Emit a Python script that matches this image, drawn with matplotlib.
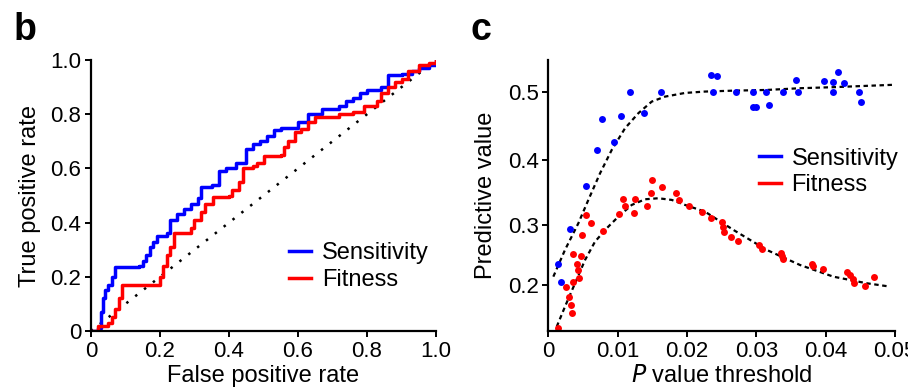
import numpy as np
import matplotlib
matplotlib.use('Agg')
import matplotlib.pyplot as plt

plt.rcParams['font.family'] = ['Liberation Sans', 'DejaVu Sans']

# ---- panel b: ROC curves ----
sens_fpr = [0, 0.02, 0.03, 0.035, 0.04, 0.05, 0.06, 0.07, 0.14, 0.15, 0.16, 0.17, 0.18, 0.19,
            0.22, 0.23, 0.25, 0.27, 0.29, 0.31, 0.32, 0.35, 0.37, 0.39, 0.42, 0.45, 0.47, 0.49,
            0.51, 0.53, 0.55, 0.6, 0.63, 0.67, 0.72, 0.74, 0.76, 0.78, 0.8, 0.84, 0.86, 0.9,
            0.93, 0.95, 0.98, 1.0]
sens_tpr = [0, 0.01, 0.07, 0.12, 0.15, 0.17, 0.2, 0.235, 0.24, 0.26, 0.28, 0.31, 0.33, 0.35,
            0.36, 0.41, 0.43, 0.45, 0.47, 0.49, 0.53, 0.54, 0.59, 0.6, 0.62, 0.67, 0.69, 0.7,
            0.72, 0.74, 0.75, 0.77, 0.8, 0.82, 0.83, 0.85, 0.86, 0.88, 0.89, 0.9, 0.945, 0.95,
            0.96, 0.97, 0.98, 1.0]

fit_fpr = [0, 0.02, 0.05, 0.06, 0.07, 0.08, 0.09, 0.19, 0.2, 0.21, 0.22, 0.23, 0.24, 0.28,
           0.29, 0.3, 0.32, 0.33, 0.355, 0.4, 0.41, 0.43, 0.44, 0.47, 0.48, 0.5, 0.55, 0.56,
           0.57, 0.59, 0.61, 0.63, 0.65, 0.71, 0.72, 0.76, 0.79, 0.83, 0.84, 0.86, 0.88, 0.9,
           0.92, 0.95, 0.98, 1.0]
fit_tpr = [0, 0.02, 0.03, 0.05, 0.08, 0.12, 0.17, 0.17, 0.2, 0.24, 0.28, 0.31, 0.36, 0.36,
           0.38, 0.41, 0.44, 0.47, 0.495, 0.5, 0.52, 0.55, 0.6, 0.61, 0.62, 0.645, 0.65, 0.68,
           0.7, 0.735, 0.745, 0.77, 0.79, 0.79, 0.8, 0.81, 0.83, 0.85, 0.88, 0.9, 0.92, 0.93,
           0.96, 0.98, 0.99, 1.0]

# ---- panel c: predictive value vs P value threshold ----
sens_p = [0.00144, 0.00178, 0.00313, 0.0055, 0.00697, 0.00774, 0.00947, 0.01043, 0.01173,
          0.01375, 0.0163, 0.02346, 0.02438, 0.0237, 0.027, 0.02947, 0.02957, 0.02995,
          0.0314, 0.03188, 0.0338, 0.03572, 0.03606, 0.03971, 0.041, 0.04111, 0.04178,
          0.0426, 0.04481, 0.04505]
sens_v = [0.237, 0.205, 0.293, 0.361, 0.416, 0.461, 0.428, 0.466, 0.5, 0.4705, 0.5, 0.525,
          0.523, 0.5, 0.5, 0.5, 0.478, 0.479, 0.5, 0.481, 0.5, 0.517, 0.5, 0.516, 0.5, 0.515,
          0.5286, 0.514, 0.5, 0.4865]

fit_p = [0.00144, 0.00255, 0.00303, 0.00322, 0.00337, 0.0036, 0.0036, 0.00409, 0.00423,
         0.00442, 0.00476, 0.00486, 0.00543, 0.00615, 0.00784, 0.01024, 0.01077, 0.01101,
         0.01236, 0.01255, 0.01418, 0.01476, 0.0149, 0.01644, 0.01837, 0.0189, 0.02034,
         0.02212, 0.02346, 0.0251, 0.02519, 0.02538, 0.02639, 0.0273, 0.03034, 0.03077,
         0.03356, 0.0337, 0.0339, 0.03808, 0.03817, 0.03966, 0.04313, 0.04351, 0.0439,
         0.04409, 0.04572, 0.04697]
fit_v = [0.122, 0.1965, 0.18, 0.165, 0.15, 0.2057, 0.2528, 0.237, 0.2253, 0.2121, 0.25,
         0.2844, 0.3153, 0.3026, 0.2898, 0.3169, 0.3414, 0.33, 0.3185, 0.3407, 0.33, 0.3507,
         0.3696, 0.3589, 0.35, 0.3393, 0.33, 0.3205, 0.3116, 0.3047, 0.2972, 0.2882, 0.2813,
         0.2748, 0.2677, 0.2618, 0.2552, 0.2497, 0.2442, 0.237, 0.2326, 0.2282, 0.2226,
         0.2169, 0.2113, 0.2045, 0.1988, 0.2147]

# dashed trend lines (traced)
sens_trend_p = [0.00072, 0.0024, 0.00433, 0.00577, 0.00746, 0.00914, 0.01106, 0.01298,
                0.01491, 0.01683, 0.01971, 0.0226, 0.02668, 0.0315, 0.0363, 0.0411, 0.0459,
                0.04975]
sens_trend_v = [0.2148, 0.2595, 0.3026, 0.3393, 0.3803, 0.4154, 0.4476, 0.4696, 0.4865,
                0.4937, 0.499, 0.501, 0.5023, 0.5033, 0.5058, 0.5073, 0.5092, 0.5107]
fit_trend_p = [0.00121, 0.0024, 0.00385, 0.00529, 0.00673, 0.00842, 0.0101, 0.01203, 0.01395,
               0.01587, 0.0178, 0.01971, 0.0226, 0.02668, 0.0315, 0.0363, 0.0411, 0.0459,
               0.04928]
fit_trend_v = [0.1253, 0.1623, 0.2035, 0.2428, 0.273, 0.2946, 0.3131, 0.3315, 0.3403, 0.3419,
               0.3393, 0.3315, 0.3209, 0.292, 0.2595, 0.2345, 0.2148, 0.2035, 0.1977]

BLUE = '#0000ff'
RED = '#ff0000'

fig = plt.figure(figsize=(9.08, 3.92), dpi=100)
axb = fig.add_axes([0.1002, 0.1556, 0.38, 0.6913])
axc = fig.add_axes([0.6039, 0.1556, 0.3818, 0.6913])


def style(ax):
    for s in ['top', 'right']:
        ax.spines[s].set_visible(False)
    for s in ['left', 'bottom']:
        ax.spines[s].set_linewidth(1.6)
    ax.tick_params(direction='out', length=4, width=1.4, labelsize=16, pad=3)


# panel b
axb.plot([0, 1], [0, 1], color='black', lw=1.8, ls=(0, (1, 3.5)))
axb.plot(sens_fpr, sens_tpr, color=BLUE, lw=2.5, drawstyle='steps-post', label='Sensitivity')
axb.plot(fit_fpr, fit_tpr, color=RED, lw=2.5, drawstyle='steps-post', label='Fitness')
axb.set_xlim(0, 1)
axb.set_ylim(0, 1)
axb.set_xticks([0, 0.2, 0.4, 0.6, 0.8, 1.0])
axb.set_xticklabels(['0', '0.2', '0.4', '0.6', '0.8', '1.0'])
axb.set_yticks([0, 0.2, 0.4, 0.6, 0.8, 1.0])
axb.set_yticklabels(['0', '0.2', '0.4', '0.6', '0.8', '1.0'])
axb.set_xlabel('False positive rate', fontsize=17, labelpad=2)
axb.set_ylabel('True positive rate', fontsize=17, labelpad=7)
style(axb)
axb.legend(loc='lower right', bbox_to_anchor=(1.04, 0.07), frameon=False, fontsize=17,
           handlelength=0.95, handletextpad=0.45, labelspacing=0.2)

# panel c (y axis is slightly compressed towards the bottom in the original)
axc.set_yscale('function', functions=(lambda y: np.power(np.clip(y, 1e-9, None), 1.2),
                                      lambda y: np.power(np.clip(y, 1e-9, None), 1 / 1.2)))
axc.plot(sens_trend_p, sens_trend_v, color='black', lw=1.6, ls=(0, (2, 1.6)))
axc.plot(fit_trend_p, fit_trend_v, color='black', lw=1.6, ls=(0, (2, 1.6)))
axc.plot(sens_p, sens_v, 'o', color=BLUE, ms=5, mec='none')
axc.plot(fit_p, fit_v, 'o', color=RED, ms=5, mec='none')
axc.plot([], [], color=BLUE, lw=2.5, label='Sensitivity')
axc.plot([], [], color=RED, lw=2.5, label='Fitness')
axc.set_xlim(0, 0.05)
axc.set_ylim(0.117, 0.546)
axc.set_xticks([0, 0.01, 0.02, 0.03, 0.04, 0.05])
axc.set_xticklabels(['0', '0.01', '0.02', '0.03', '0.04', '0.05'])
axc.set_yticks([0.2, 0.3, 0.4, 0.5])
axc.set_yticklabels(['0.2', '0.3', '0.4', '0.5'])
axc.yaxis.set_minor_locator(matplotlib.ticker.NullLocator())
axc.set_xlabel('$\\it{P}$ value threshold', fontsize=17, labelpad=2)
axc.set_ylabel('Predictive value', fontsize=17, labelpad=8)
style(axc)
axc.legend(loc='upper left', bbox_to_anchor=(0.545, 0.755), frameon=False, fontsize=17,
           handlelength=0.95, handletextpad=0.45, labelspacing=0.2)

fig.text(0.0145, 0.898, 'b', fontsize=27, fontweight='bold', va='baseline')
fig.text(0.518, 0.898, 'c', fontsize=27, fontweight='bold', va='baseline')

fig.savefig('out.png', dpi=100)
